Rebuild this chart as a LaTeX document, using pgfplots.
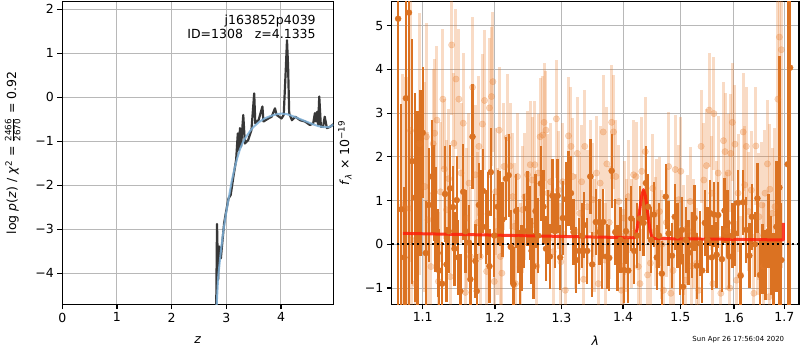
\documentclass[border=0pt]{standalone}
\usepackage{fontspec}
\setmainfont{DejaVu Sans}
\usepackage{amsmath}
\usepackage{pgfplots}
\usepackage{pgfplotstable}
\pgfplotsset{compat=1.18}
\definecolor{sol}{RGB}{219,114,34}
\definecolor{fad}{RGB}{232,125,45}
\definecolor{redm}{RGB}{255,30,10}
\definecolor{pzdark}{RGB}{55,55,55}
\definecolor{pzblue}{RGB}{125,175,215}
\definecolor{gridgray}{RGB}{184,184,184}

\pgfplotstableread{
x y e
1.068 5.16 7.0
1.072 0.8 2.4
1.076 -0.3 1.6
1.078 3.34 5.0
1.082 5.30 7.0
1.086 1.9 2.8
1.090 1.07 2.4
1.093 0.46 2.6
1.097 1.64 1.9
1.100 2.55 1.5
1.104 -0.2 1.2
1.108 0.9 1.3
1.112 1.55 1.3
1.115 1.17 1.1
1.117 0.56 1.2
1.120 -0.2 1.0
1.122 -0.60 0.95
1.126 -0.90 0.95
1.130 1.15 1.1
1.132 -0.46 0.85
1.135 0.3 0.95
1.137 1.28 1.0
1.141 0.85 0.95
1.143 -0.1 0.85
1.146 1.01 1.0
1.148 -0.30 0.85
1.151 -1.07 0.85
1.155 1.20 1.1
1.158 0.3 0.95
1.163 0.04 0.85
1.165 -0.8 0.85
1.168 2.46 1.2
1.172 -0.38 0.85
1.174 -1.07 0.85
1.177 0.9 0.95
1.180 0.69 1.0
1.183 1.22 0.95
1.187 0.40 0.85
1.190 0.71 0.95
1.192 -0.5 0.85
1.194 1.65 1.0
1.199 0.2 0.95
1.204 0.86 0.85
1.207 0.82 0.85
1.211 0.57 0.85
1.216 1.50 0.95
1.220 1.58 0.95
1.223 -0.06 0.85
1.227 -0.91 0.85
1.231 0.76 0.85
1.234 0.1 0.75
1.237 -0.52 0.85
1.239 -0.31 0.75
1.243 0.3 0.85
1.248 0.82 0.85
1.252 0.48 0.85
1.254 -0.15 0.75
1.257 -0.5 0.75
1.260 0.76 0.85
1.264 0.2 0.85
1.268 1.39 0.85
1.272 0.86 0.85
1.276 -0.1 0.75
1.279 0.4 0.85
1.282 -0.28 0.75
1.286 1.11 0.85
1.290 0.3 0.85
1.294 1.11 0.85
1.298 -0.3 0.75
1.302 0.6 0.85
1.307 1.03 0.85
1.311 1.28 0.85
1.315 1.17 0.85
1.319 0.28 0.75
1.323 -0.36 0.75
1.328 -0.15 0.75
1.333 0.20 0.75
1.336 0.44 0.75
1.341 -0.15 0.75
1.346 1.55 0.85
1.349 -0.46 0.75
1.355 0.51 0.75
1.361 0.28 0.75
1.365 -0.27 0.75
1.367 0.51 0.75
1.373 -0.28 0.75
1.377 -0.31 0.75
1.381 1.68 0.85
1.387 0.28 0.75
1.391 -0.31 0.75
1.396 0.1 0.75
1.402 -0.59 0.75
1.405 0.3 0.75
1.409 -0.60 0.75
1.414 0.59 0.75
1.419 -0.15 0.75
1.424 0.2 0.75
1.429 0.59 0.75
1.435 0.49 0.75
1.439 1.40 0.85
1.443 0.86 0.75
1.448 0.1 0.75
1.453 0.68 0.75
1.458 -0.3 0.75
1.462 0.2 0.75
1.467 -0.67 0.75
1.474 1.09 0.75
1.479 0.25 0.75
1.485 -0.26 0.75
1.490 0.63 0.75
1.495 0.20 0.75
1.499 -0.4 0.75
1.503 0.33 0.75
1.505 -0.97 0.75
1.510 0.1 0.75
1.515 -0.19 0.75
1.521 -0.02 0.75
1.526 0.6 0.75
1.530 -0.49 0.75
1.536 0.02 0.75
1.540 -0.6 0.75
1.545 0.49 0.75
1.550 0.1 0.75
1.555 0.71 0.75
1.558 -0.30 0.75
1.562 0.68 0.75
1.567 -0.24 0.75
1.570 0.67 0.75
1.577 -0.34 0.75
1.582 0.77 0.75
1.588 0.49 0.75
1.591 -0.28 0.75
1.597 0.2 0.75
1.602 0.25 0.75
1.608 0.95 0.75
1.613 -0.72 0.75
1.618 0.96 0.75
1.624 0.33 0.75
1.630 -0.26 0.75
1.635 0.63 0.75
1.641 0.0 0.75
1.646 1.05 0.8
1.651 -0.70 0.8
1.656 -0.34 0.8
1.662 -0.47 0.8
1.668 0.30 0.85
1.673 -0.26 0.9
1.678 -0.65 0.9
1.684 0.4 1.5
1.690 1.30 3.0
1.694 -0.36 1.3
1.707 1.83 8.0
1.712 4.04 8.0
}\solidtab

\pgfplotstableread{
x y e
1.074 0.9 3.0
1.077 0.82 3.0
1.082 0.82 3.0
1.084 2.60 3.0
1.085 0.10 2.5
1.090 -0.9 2.5
1.096 2.30 3.0
1.103 1.32 2.4
1.105 2.46 2.6
1.107 0.56 2.0
1.111 -0.51 1.7
1.114 2.30 1.7
1.116 2.54 1.7
1.119 2.84 1.7
1.121 -0.85 1.6
1.124 1.2 1.6
1.127 3.32 1.6
1.129 1.72 1.6
1.132 0.79 1.6
1.135 1.5 1.6
1.137 -0.74 1.6
1.139 4.56 1.6
1.142 2.31 1.6
1.145 3.78 1.6
1.149 3.32 1.6
1.152 1.63 1.6
1.155 2.77 1.6
1.158 -1.1 1.6
1.160 0.6 1.6
1.163 1.40 1.6
1.165 -0.28 1.6
1.168 3.59 1.6
1.172 1.59 1.6
1.175 0.5 1.6
1.177 2.24 1.6
1.179 -0.28 1.6
1.182 2.75 1.6
1.185 3.29 1.6
1.188 -0.62 1.6
1.192 3.12 1.6
1.195 3.38 1.6
1.197 3.72 1.6
1.199 -0.85 1.45
1.201 1.20 1.45
1.204 0.3 1.45
1.206 2.61 1.45
1.208 -0.28 1.45
1.210 -0.66 1.45
1.213 1.78 1.45
1.218 2.44 1.45
1.222 1.79 1.45
1.226 1.09 1.45
1.228 0.41 1.45
1.230 -0.9 1.45
1.233 1.55 1.45
1.237 -0.51 1.45
1.241 0.79 1.45
1.244 1.09 1.45
1.248 1.59 1.45
1.252 1.82 1.45
1.255 1.47 1.45
1.259 1.82 1.45
1.262 -0.5 1.35
1.264 1.63 1.35
1.267 2.46 1.35
1.271 2.50 1.35
1.273 2.79 1.35
1.276 2.61 1.35
1.279 1.17 1.35
1.283 1.43 1.35
1.287 -0.17 1.35
1.292 2.87 1.35
1.295 1.24 1.35
1.299 -0.4 1.35
1.302 1.43 1.35
1.306 -1.05 1.35
1.311 2.48 1.35
1.315 2.24 1.35
1.318 1.55 1.35
1.322 0.3 1.3
1.325 2.08 1.3
1.329 0.71 1.3
1.332 1.43 1.3
1.335 -0.8 1.3
1.337 2.24 1.3
1.341 0.86 1.3
1.346 1.55 1.3
1.350 1.02 1.3
1.353 0.2 1.3
1.356 1.63 1.3
1.359 -0.9 1.3
1.362 1.40 1.3
1.367 2.57 1.3
1.370 -0.36 1.3
1.373 1.84 1.3
1.377 0.5 1.3
1.381 2.79 1.3
1.384 2.57 1.3
1.388 1.55 1.3
1.393 0.98 1.3
1.397 -1.05 1.3
1.400 -0.5 1.3
1.402 0.60 1.3
1.406 0.2 1.3
1.409 1.09 1.3
1.415 0.25 1.25
1.418 1.59 1.25
1.422 1.55 1.25
1.426 -0.51 1.25
1.429 -0.9 1.25
1.432 1.67 1.25
1.438 2.12 1.25
1.442 -0.70 1.25
1.447 -0.43 1.25
1.451 1.28 1.25
1.455 0.3 1.25
1.458 0.71 1.25
1.463 0.75 1.25
1.467 0.0 1.25
1.470 -1.05 1.25
1.475 0.5 1.25
1.479 1.78 1.25
1.483 -1.12 1.25
1.487 -0.6 1.25
1.491 1.71 1.25
1.497 1.02 1.25
1.501 1.67 1.25
1.505 0.1 1.25
1.509 -0.82 1.25
1.513 0.33 1.25
1.518 0.98 1.25
1.521 -0.5 1.25
1.524 0.25 1.25
1.530 -0.43 1.25
1.534 -1.05 1.25
1.538 2.24 1.3
1.543 1.47 1.3
1.548 1.80 1.3
1.553 3.07 1.3
1.558 1.17 1.3
1.560 -0.9 1.3
1.562 2.99 1.3
1.566 0.6 1.3
1.570 1.63 1.3
1.575 -1.12 1.3
1.580 2.37 1.35
1.583 2.12 1.35
1.586 0.3 1.35
1.589 1.63 1.35
1.592 -1.0 1.35
1.594 2.08 1.35
1.597 2.79 1.35
1.602 2.29 1.35
1.605 -0.82 1.35
1.608 1.17 1.35
1.613 -0.7 1.35
1.618 2.57 1.35
1.621 1.36 1.35
1.624 2.24 1.35
1.629 0.75 1.35
1.634 1.24 1.35
1.639 -1.12 1.35
1.643 2.25 1.35
1.646 0.2 1.35
1.649 0.63 1.45
1.655 0.90 1.45
1.658 -0.5 1.45
1.661 1.17 1.45
1.666 1.84 1.45
1.669 -1.2 1.45
1.671 1.26 1.5
1.676 0.71 1.5
1.681 0.86 1.8
1.687 3.32 4.0
1.690 4.74 5.0
1.694 4.45 5.0
}\fadedtab

\pgfplotstableread{
x y
1.074 0.25
1.20 0.21
1.30 0.18
1.42 0.15
1.424 0.35
1.428 0.75
1.432 1.12
1.435 1.25
1.438 1.12
1.442 0.75
1.446 0.35
1.450 0.14
1.46 0.13
1.55 0.12
1.698 0.10
1.698 0.49
}\modeltab

\pgfplotstableread{
x y
1.0597 0
1.7303 0
}\zerotab

\begin{document}
\begin{tikzpicture}
\useasboundingbox (0,0) rectangle (800pt,350pt);
\pgfplotsset{
  every axis/.append style={
    scale only axis,
    font=\fontsize{12.5}{15}\selectfont,
    tick align=outside, tick pos=left,
    major tick length=4.9pt,
    tick style={black, line width=1.1pt},
    axis line style={line width=1.1pt},
    grid=major,
    major grid style={color=gridgray, line width=1pt},
    tick label style={font=\fontsize{12.5}{15}\selectfont},
    label style={font=\fontsize{12.5}{15}\selectfont},
  }
}
\begin{axis}[at={(62.3pt,45.7pt)}, anchor=south west, width=271pt, height=302.6pt,
  xmin=0, xmax=4.957, ymin=-4.705, ymax=2.174,
  xtick={0,1,2,3,4}, xticklabels={0,1,2,3,4},
  ytick={-4,-3,-2,-1,0,1,2}, yticklabels={−4,−3,−2,−1,0,1,2},
  xlabel={\textit{z}},
  xlabel style={at={(axis description cs:0.5,-0.119)}, anchor=center},
  ylabel={log \textit{p}(\textit{z}) / \textit{χ}\textsuperscript{2} = $\frac{\text{2466}}{\text{2670}}$ = 0.92},
  ylabel style={at={(axis description cs:-0.183,0.5)}, anchor=center},
]
\addplot[pzdark, line width=2.2pt, line join=round] coordinates {
(2.81,-5.5) (2.83,-2.88) (2.85,-4.15) (2.87,-3.39) (2.90,-3.66) (2.92,-3.39) (2.96,-2.86) (2.99,-2.64) (3.04,-2.30) (3.08,-2.22) (3.13,-1.80) (3.18,-1.42) (3.21,-0.82) (3.23,-1.20) (3.25,-0.70) (3.27,-1.12) (3.31,-0.40) (3.34,-1.05) (3.40,-0.97) (3.46,-0.74) (3.51,0.09) (3.53,-0.59) (3.59,-0.52) (3.66,-0.21) (3.68,-0.55) (3.77,-0.48) (3.83,-0.44) (3.89,-0.25) (3.92,-0.40) (4.01,-0.48) (4.05,-0.40) (4.09,0.70) (4.11,1.30) (4.13,0.70) (4.15,-0.36) (4.20,-0.52) (4.26,-0.44) (4.35,-0.52) (4.44,-0.55) (4.53,-0.63) (4.59,-0.59) (4.62,-0.36) (4.64,-0.55) (4.66,-0.33) (4.68,-0.63) (4.70,0.02) (4.73,-0.67) (4.77,-0.67) (4.80,-0.44) (4.84,-0.70) (4.90,-0.67) (4.96,-0.61)
};
\addplot[pzblue, line width=2pt, opacity=0.85, line join=round] coordinates {
(2.80,-5.3) (2.85,-4.1) (2.90,-3.5) (2.95,-3.0) (3.00,-2.6) (3.05,-2.25) (3.10,-1.9) (3.15,-1.62) (3.20,-1.38) (3.25,-1.18) (3.30,-1.03) (3.35,-0.92) (3.40,-0.83) (3.45,-0.74) (3.50,-0.67) (3.60,-0.56) (3.70,-0.48) (3.80,-0.43) (3.90,-0.39) (4.00,-0.37) (4.10,-0.38) (4.20,-0.42) (4.30,-0.47) (4.40,-0.52) (4.50,-0.57) (4.60,-0.62) (4.70,-0.66) (4.80,-0.68) (4.88,-0.68) (4.957,-0.62)
};
\node[anchor=base east] at (axis description cs:0.948,0.924) {j163852p4039};
\node[anchor=base east] at (axis description cs:0.948,0.877) {ID=1308\hspace{0.954em}z=4.1335};
\end{axis}

\begin{axis}[at={(391.7pt,45.7pt)}, anchor=south west, width=407.3pt, height=302.6pt,
  xmin=0.025183, xmax=0.238122, ymin=-1.372, ymax=5.549,
  xtick={0.041393,0.079181,0.113943,0.146128,0.176091,0.204120,0.230449},
  xticklabels={1.1,1.2,1.3,1.4,1.5,1.6,1.7},
  ytick={-1,0,1,2,3,4,5}, yticklabels={−1,0,1,2,3,4,5},
  xlabel={\textit{λ}},
  xlabel style={at={(axis description cs:0.5,-0.119)}, anchor=center},
  ylabel={\textit{f}\textsubscript{\textit{λ}} × 10\textsuperscript{−19}},
  ylabel style={at={(axis description cs:-0.115,0.5)}, anchor=center},
]
\addplot[only marks, mark=*, mark size=3.2pt, color=fad,
  mark options={opacity=0.3},
  error bars/.cd, y dir=both, y explicit, error mark=none,
  error bar style={line width=3pt, color=fad, opacity=0.28}]
  table[x expr={log10(\thisrow{x})}, y=y, y error=e] {\fadedtab};
\addplot[only marks, mark=*, mark size=3pt, color=sol,
  error bars/.cd, y dir=both, y explicit, error mark=none,
  error bar style={line width=2.3pt, color=sol}]
  table[x expr={log10(\thisrow{x})}, y=y, y error=e] {\solidtab};
\addplot[redm, line width=3pt, opacity=0.85, line join=round]
  table[x expr={log10(\thisrow{x})}, y=y] {\modeltab};
\addplot[black, line width=2pt, dash pattern=on 2pt off 3pt]
  table[x expr={log10(\thisrow{x})}, y=y] {\zerotab};
\end{axis}
\node[anchor=east, font=\fontsize{6.94}{8}\selectfont] at (787.7pt,10.7pt) {Sun Apr 26 17:56:04 2020};
\end{tikzpicture}
\end{document}
